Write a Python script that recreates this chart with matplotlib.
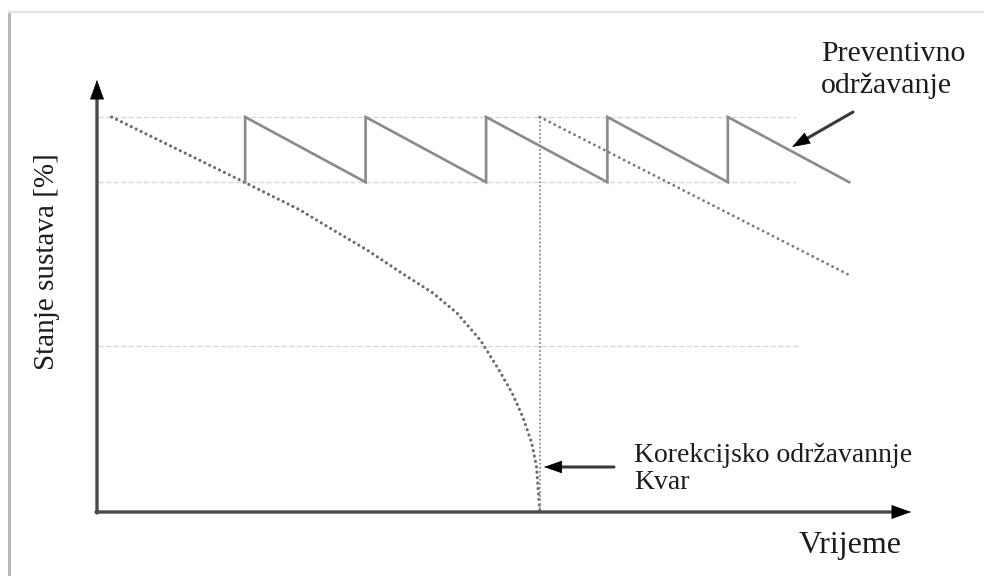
import matplotlib
matplotlib.use("Agg")
import matplotlib.pyplot as plt
from matplotlib.lines import Line2D

# ---- data (time in arbitrary units, condition in %) ----
maint_times = [18.2, 33.0, 47.8, 62.7, 77.5]   # preventive maintenance instants
saw_end_time = 92.4
cond_upper = 100.0
cond_lower = 83.5
ref_levels = [100.0, 83.5, 42.0]
ref_ends = [85.9, 85.9, 86.3]

fail_t = [1.8, 17.5, 24.9, 29.0, 33.2, 37.2, 41.3, 44.2, 47.1, 49.4,
          51.0, 52.3, 53.4, 54.0, 54.2, 54.4]
fail_c = [100.0, 84.1, 76.5, 71.4, 66.3, 60.8, 55.4, 50.4, 43.5, 35.9,
          30.1, 24.1, 17.5, 11.4, 5.6, 0.0]

failure_time = 54.4
after_t = [54.4, 92.4]
after_c = [100.0, 60.0]

W, H = 984, 576
fig = plt.figure(figsize=(W / 100, H / 100), dpi=100)
fig.patch.set_facecolor("white")

# frame (scanned figure border)
fig.add_artist(Line2D([9 / W, 9 / W], [0, 1 - 12 / H], color="#b8b8b8", lw=2.2))
fig.add_artist(Line2D([9 / W, 1], [1 - 12 / H, 1 - 12 / H], color="#e2e2e2", lw=1.5))

x0, x1, yb, yt = 97, 911, 512, 80
sx_px = (x1 - x0) / 100.0
sy_px = 3.95
ytop = (yb - yt) / sy_px
ax = fig.add_axes([x0 / W, (H - yb) / H, (x1 - x0) / W, (yb - yt) / H])
ax.set_xlim(0, 100)
ax.set_ylim(0, ytop)
ax.axis("off")


def px(xp, yp):
    return (xp - x0) / sx_px, (yb - yp) / sy_px


# reference levels
for lvl, end in zip(ref_levels, ref_ends):
    ax.plot([-0.8, end], [lvl, lvl], color="#dadada", lw=1.0,
            linestyle=(0, (4, 1.5)), zorder=1)

# sawtooth (preventive maintenance)
sx, sy = [], []
for t in maint_times:
    sx += [t, t]
    sy += [cond_lower, cond_upper]
sx.append(saw_end_time)
sy.append(cond_lower)
ax.plot(sx, sy, color="#8a8a8a", lw=1.9, zorder=3, solid_joinstyle="miter")

# degradation without maintenance
ax.plot(fail_t, fail_c, color="#6c6c6c", lw=2.3, linestyle=(0, (0.01, 1.7)),
        dash_capstyle="round", zorder=2)
# vertical failure line
ax.plot([failure_time, failure_time], [0, cond_upper], color="#959595", lw=1.6,
        linestyle=(0, (0.01, 1.8)), dash_capstyle="round", zorder=2)
# degradation after corrective maintenance
ax.plot(after_t, after_c, color="#7a7a7a", lw=2.1, linestyle=(0, (0.01, 1.9)),
        dash_capstyle="round", zorder=2)


def arrow(tip_px, tail_px, shaft_color, lw, hl, hw, gap=8):
    tx, ty = tip_px
    ax_, ay_ = tail_px
    L = ((tx - ax_) ** 2 + (ty - ay_) ** 2) ** 0.5
    ux, uy = (tx - ax_) / L, (ty - ay_) / L
    shaft_end = (tx - ux * gap, ty - uy * gap)
    ax.annotate("", xy=px(*shaft_end), xytext=px(*tail_px),
                arrowprops=dict(arrowstyle="-", color=shaft_color, lw=lw,
                                shrinkA=0, shrinkB=0), annotation_clip=False)
    head_tail = (tx - ux * 2, ty - uy * 2)
    ax.annotate("", xy=px(*tip_px), xytext=px(*head_tail),
                arrowprops=dict(arrowstyle=f"-|>,head_length={hl},head_width={hw}",
                                color="black", lw=0.5, shrinkA=0, shrinkB=0),
                annotation_clip=False)


# axes with arrows
arrow((x0, yt), (x0, yb + 1), "#4a4a4a", 2.4, 1.3, 0.47)
arrow((x1, yb), (x0 - 1, yb), "#4a4a4a", 2.4, 1.3, 0.47)

serif = ["Liberation Serif", "DejaVu Serif"]
tc = "#1c1c1c"

# annotation: preventive maintenance
arrow((792, 147), (853, 112), "#3a3a3a", 2.2, 1.2, 0.42, gap=6)
fig.text(821 / W, 1 - 70 / H, "Preventivno\nodržavanje", family=serif, fontsize=21.5,
         color=tc, ha="left", va="center", linespacing=1.25)

# annotation: corrective maintenance
arrow((544, 467), (614, 467), "#3a3a3a", 2.2, 1.2, 0.42, gap=6)
fig.text(634 / W, 1 - 469 / H, "Korekcijsko održavannje\nKvar", family=serif,
         fontsize=20, color=tc, ha="left", va="center", linespacing=1.12)

# axis labels
fig.text(850 / W, 1 - 546 / H, "Vrijeme", family=serif, fontsize=23, color=tc,
         ha="center", va="center")
fig.text(47 / W, 1 - 262 / H, "Stanje sustava [%]", family=serif, fontsize=21,
         color=tc, ha="center", va="center", rotation=90)

fig.savefig("out.png", dpi=100, facecolor="white")
